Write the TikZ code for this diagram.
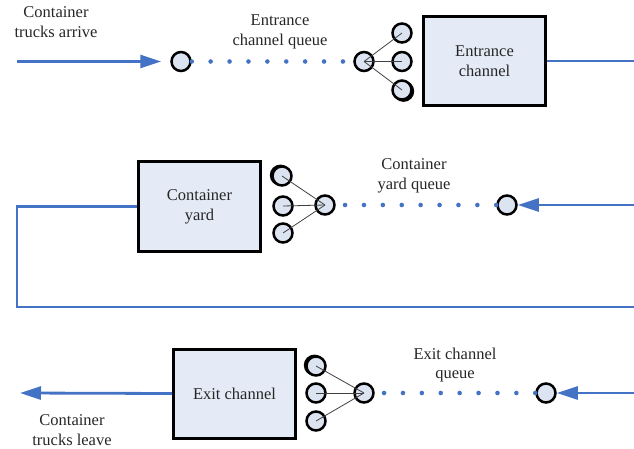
\documentclass[tikz,border=0pt]{standalone}
\usepackage{fontspec}
\setmainfont{Liberation Serif}
\usetikzlibrary{arrows.meta,shadows}
\definecolor{flow}{HTML}{4472C4}
\definecolor{boxfill}{HTML}{E4EAF6}
\definecolor{ballfill}{HTML}{DCE4F2}
\begin{document}
\begin{tikzpicture}[x=1pt,y=-1pt,
  txt/.style={font=\fontsize{16.5}{19.5}\selectfont, align=center, text=black!85, inner sep=0pt},
  station/.style={draw=black, line width=3pt, fill=boxfill, minimum width=122pt,
    minimum height=89pt, inner sep=0pt, align=center, text=black!85,
    font=\fontsize{16.5}{20}\selectfont},
  ball/.style={circle, draw=black, line width=2.5pt, fill=ballfill, minimum size=19pt, inner sep=0pt},
  heavyright/.style={drop shadow={shadow xshift=1.4pt, shadow yshift=-1.1pt, shadow scale=1.12, fill=black, opacity=1}},
  heavyleft/.style={drop shadow={shadow xshift=-1.4pt, shadow yshift=0.7pt, shadow scale=1.12, fill=black, opacity=1}},
  flowline/.style={draw=flow, line width=2.8pt},
  flowarrow/.style={flowline, -{Triangle[length=21pt,width=13pt]}},
  queuedots/.style={draw=flow, line width=4.6pt, line cap=round, dash pattern=on 0pt off 18.9pt},
  spoke/.style={draw=black!75, line width=0.8pt}]
\useasboundingbox (0,0) rectangle (634,449);

% ---- entrance stage ----
\node[txt] (arrtxt) at (56,22) {Container\\trucks arrive};
\node[txt] (q1txt) at (280,32) {Entrance\\channel queue};
\coordinate (src) at (17,61.5);
\node[ball] (q1a) at (181,61.5) {};
\node[ball] (q1b) at (364,61.5) {};
\node[ball] (s1a) at (402,33) {};
\node[ball] (s1b) at (402,61.5) {};
\node[ball,heavyright] (s1c) at (402,90) {};
\node[station] (ent) at (484.5,61) {Entrance\\channel};
\coordinate (e1) at (634,61);
\draw[flowarrow, shorten >=9pt] (src) -- (q1a.west);
\draw[queuedots] (q1a.east) -- (q1b.west);
\foreach \s in {s1a,s1b,s1c} \draw[spoke] (q1b.center) -- (\s.center);
\draw[flowline] (ent.east) -- (e1);

% ---- container yard stage ----
\node[station] (yard) at (199.5,206.5) {Container\\yard};
\node[ball,heavyleft] (s2a) at (282,176) {};
\node[ball] (s2b) at (283,206) {};
\node[ball] (s2c) at (283,233) {};
\node[ball] (q2b) at (325,205) {};
\node[ball] (q2a) at (507,205) {};
\node[txt] (q2txt) at (414,176) {Container\\yard queue};
\coordinate (e2in) at (634,205);
\draw[flowarrow] (e2in) -- (q2a.east);
\draw[queuedots] (q2a.west) -- (q2b.east);
\foreach \s in {s2a,s2b,s2c} \draw[spoke] (q2b.center) -- (\s.center);
\coordinate (loopL) at (17,307);
\coordinate (loopR) at (634,307);
\draw[flowline] (yard.west) -| (loopL) -- (loopR);

% ---- exit stage ----
\node[station] (exit) at (234.5,393.5) {Exit channel};
\node[ball,heavyleft] (s3a) at (316,366) {};
\node[ball] (s3b) at (316,393) {};
\node[ball] (s3c) at (316,421) {};
\node[ball] (q3b) at (364,393) {};
\node[ball] (q3a) at (546,393) {};
\node[txt] (q3txt) at (455,365) {Exit channel\\queue};
\node[txt] (levtxt) at (72,430) {Container\\trucks leave};
\coordinate (e3in) at (634,393);
\coordinate (sink) at (20,393);
\draw[flowarrow] (e3in) -- (q3a.east);
\draw[queuedots] (q3a.west) -- (q3b.east);
\foreach \s in {s3a,s3b,s3c} \draw[spoke] (q3b.center) -- (\s.center);
\draw[flowarrow] (exit.west) -- (sink);
\end{tikzpicture}
\end{document}
